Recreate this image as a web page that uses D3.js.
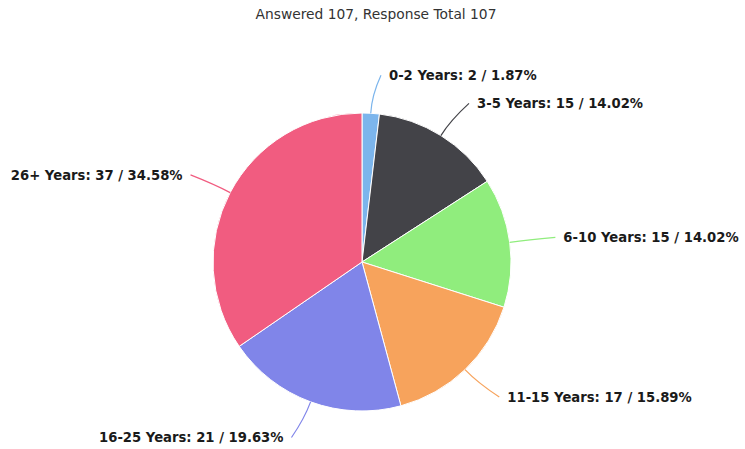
<!DOCTYPE html>
<html><head><meta charset="utf-8">
<script src="https://cdn.jsdelivr.net/npm/d3@7"></script>
<style>body{margin:0;background:#fff}svg{display:block}</style>
</head><body>
<svg id="c" width="745" height="449"></svg>
<script>
const categories = ["0-2 Years","3-5 Years","6-10 Years","11-15 Years","16-25 Years","26+ Years"];
const counts = [2,15,15,17,21,37];
const percents = ["1.87%","14.02%","14.02%","15.89%","19.63%","34.58%"];
const colors = ["#7cb5ec","#434348","#90ed7d","#f7a35c","#8085e9","#f15c80"];
const titleText = "Answered 107, Response Total 107";

const svg = d3.select("#c");
const cx = 362, cy = 262, r = 149;
svg.append("text").attr("x",376).attr("y",19).attr("text-anchor","middle")
  .style("font-family","DejaVu Sans, Verdana, sans-serif").style("font-size","13.8px").attr("fill","#333")
  .text(titleText);

const pie = d3.pie().sort(null).value(d=>d)(counts);
const arc = d3.arc().innerRadius(0).outerRadius(r);
const g = svg.append("g").attr("transform",`translate(${cx},${cy})`);
g.selectAll("path.s").data(pie).join("path").attr("class","s")
  .attr("d",arc).attr("fill",(d,i)=>colors[i]).attr("stroke","#fff").attr("stroke-width",1);

pie.forEach((d,i)=>{
  const a = (d.startAngle+d.endAngle)/2;
  const sx = Math.sin(a), sy = -Math.cos(a);
  const right = sx >= 0;
  const p0 = [r*sx, r*sy];
  const pc = [(r+18)*sx, (r+18)*sy];
  const ly = (r+38)*sy;
  const lx = (r+38)*sx + (right?16:-14);
  const end = [lx + (right?-8:8), ly];
  g.append("path").attr("d",`M${p0[0]},${p0[1]} Q${pc[0]},${pc[1]} ${end[0]},${end[1]}`)
    .attr("fill","none").attr("stroke",colors[i]).attr("stroke-width",1.2);
  g.append("text").attr("x",lx).attr("y",ly).attr("dy","0.35em")
    .attr("text-anchor",right?"start":"end")
    .style("font-family","DejaVu Sans, Verdana, sans-serif").style("font-size","13.2px").style("font-weight","bold")
    .attr("fill","#1a1a1a")
    .text(`${categories[i]}: ${counts[i]} / ${percents[i]}`);
});
</script>
</body></html>
